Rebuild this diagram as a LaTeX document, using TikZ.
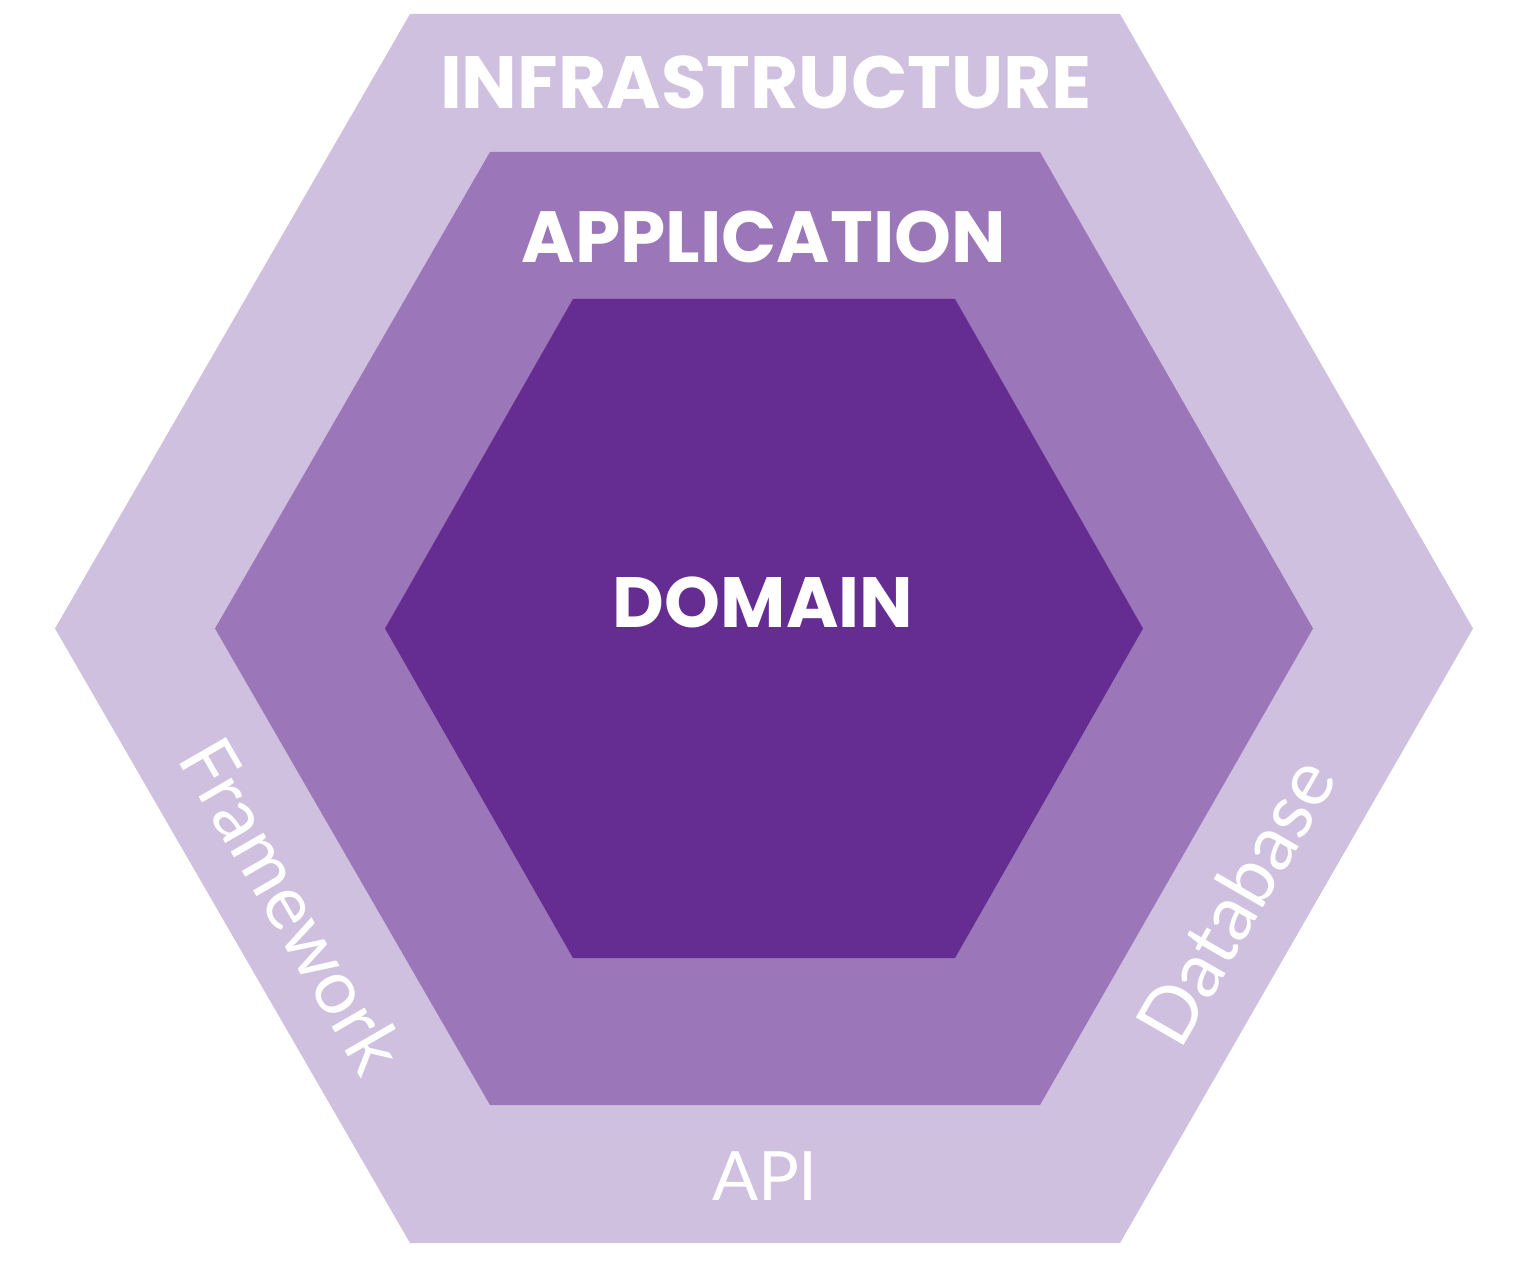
\documentclass[tikz,border=0pt]{standalone}
\usepackage{fontspec}
\setmainfont{Poppins}
\newfontfamily\lightfont{Lato}
\definecolor{outerc}{RGB}{208,192,223}
\definecolor{midc}{RGB}{155,118,184}
\definecolor{innerc}{RGB}{101,45,145}
\begin{document}
\begin{tikzpicture}[x=0.5pt,y=-0.5pt,
  boldlbl/.style={text=white,inner sep=0pt,font=\bfseries},
  lightlbl/.style={text=white,inner sep=0pt,font=\lightfont}]
\useasboundingbox (0,0) rectangle (1540,1262);
\fill[white] (0,0) rectangle (1540,1262);
% outer hexagon
\fill[outerc] (55,628.5) -- (410,14) -- (1120,14) -- (1473,628.5) -- (1120,1243) -- (410,1243) -- cycle;
% middle hexagon
\fill[midc] (215,628.5) -- (490,152) -- (1040,152) -- (1313,628.5) -- (1040,1105) -- (490,1105) -- cycle;
% inner hexagon
\fill[innerc] (385,628.5) -- (573,299) -- (955,299) -- (1143,628.5) -- (955,958) -- (573,958) -- cycle;
% labels
\node[boldlbl] (infra) at (766,82) {\resizebox{326pt}{!}{INFRASTRUCTURE}};
\node[boldlbl] (app) at (764,237) {\resizebox{242pt}{!}{APPLICATION}};
\node[boldlbl] (dom) at (763,602) {\resizebox{150pt}{!}{DOMAIN}};
\node[lightlbl] (api) at (765,1176) {\resizebox{53pt}{!}{API}};
\node[lightlbl,rotate=-60] (fw) at (293,905) {\resizebox{185pt}{!}{Framework}};
\node[lightlbl,rotate=60] (db) at (1235,901) {\resizebox{158pt}{!}{Database}};
\end{tikzpicture}
\end{document}
